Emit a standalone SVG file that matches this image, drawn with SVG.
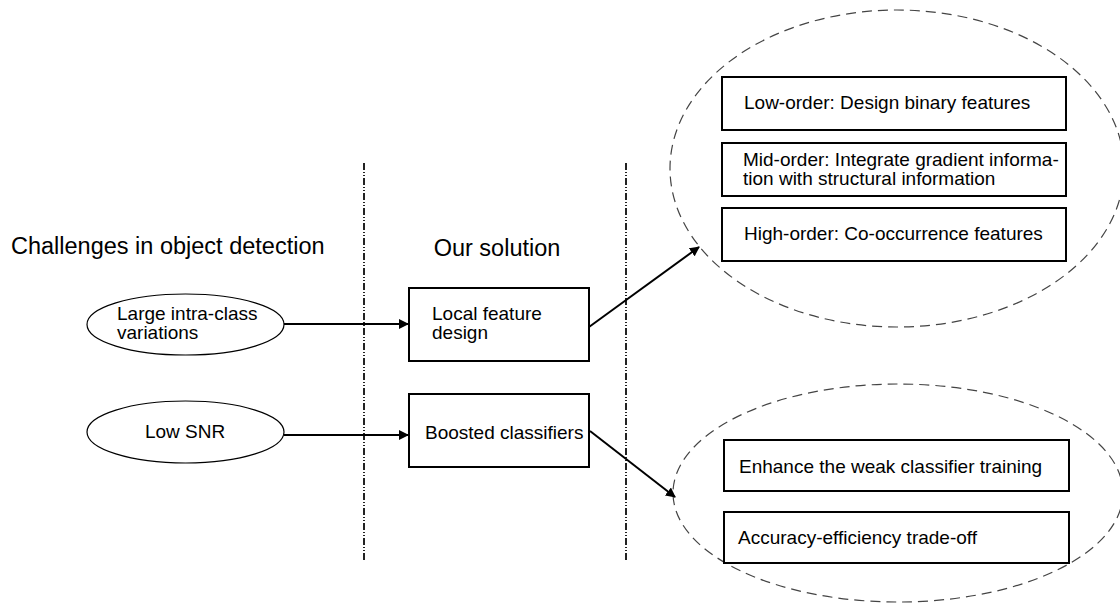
<svg xmlns="http://www.w3.org/2000/svg" width="1120" height="613" viewBox="0 0 1120 613">
  <style>
    text { font-family: "Liberation Sans", Arial, sans-serif; fill: #000; }
    .title { font-size: 23.5px; }
    .lbl { font-size: 19px; }
    .small { font-size: 19px; }
    .box { fill: #fff; stroke: #000; stroke-width: 2; }
    .oval { fill: #fff; stroke: #000; stroke-width: 1.2; }
    .group { fill: none; stroke: #444; stroke-width: 1.2; stroke-dasharray: 10 6; }
    .divider { stroke: #222; stroke-width: 2; stroke-dasharray: 7 2 1 2 1 2; fill: none; }
    .conn { stroke: #000; stroke-width: 2; fill: none; marker-end: url(#arrow); }
  </style>
  <defs>
    <marker id="arrow" viewBox="0 0 10 10" refX="9" refY="5" markerWidth="5" markerHeight="5" orient="auto" markerUnits="strokeWidth">
      <path d="M0,0 L10,5 L0,10 z" fill="#000"/>
    </marker>
  </defs>

  <rect width="1120" height="613" fill="#fff"/>

  <!-- column dividers -->
  <g id="dividers">
    <line class="divider" x1="364" y1="163" x2="364" y2="562"/>
    <line class="divider" x1="626" y1="163" x2="626" y2="562"/>
  </g>

  <!-- column headings -->
  <g id="headings">
    <text class="title" x="11" y="254">Challenges in object detection</text>
    <text class="title" x="497" y="256" text-anchor="middle">Our solution</text>
  </g>

  <!-- grouping ellipses -->
  <g id="feature-group">
    <ellipse class="group" cx="897" cy="168.5" rx="227" ry="158.5"/>
  </g>
  <g id="classifier-group">
    <ellipse class="group" cx="898" cy="493" rx="225" ry="109"/>
  </g>

  <!-- challenges -->
  <g id="intra-class">
    <ellipse class="oval" cx="185.5" cy="324.5" rx="98.5" ry="30.5"/>
    <text class="small" x="117" y="320">Large intra-class</text>
    <text class="small" x="117" y="339">variations</text>
  </g>
  <g id="low-snr">
    <ellipse class="oval" cx="185.5" cy="432" rx="98.5" ry="31"/>
    <text class="small" x="185" y="438" text-anchor="middle">Low SNR</text>
  </g>

  <!-- solutions -->
  <g id="local-feature">
    <rect class="box" x="409" y="288" width="180" height="73"/>
    <text class="lbl" x="432" y="320">Local feature</text>
    <text class="lbl" x="432" y="339">design</text>
  </g>
  <g id="boosted">
    <rect class="box" x="409" y="394" width="180" height="73"/>
    <text class="lbl" x="425" y="439">Boosted classifiers</text>
  </g>

  <!-- feature details -->
  <g id="low-order">
    <rect class="box" x="722" y="77" width="344" height="53"/>
    <text class="lbl" x="744" y="109">Low-order: Design binary features</text>
  </g>
  <g id="mid-order">
    <rect class="box" x="722" y="143" width="344" height="53"/>
    <text class="lbl" x="743" y="166">Mid-order: Integrate gradient informa-</text>
    <text class="lbl" x="743" y="185">tion with structural information</text>
  </g>
  <g id="high-order">
    <rect class="box" x="722" y="208" width="344" height="53"/>
    <text class="lbl" x="744" y="240">High-order: Co-occurrence features</text>
  </g>

  <!-- classifier details -->
  <g id="weak-training">
    <rect class="box" x="724" y="440" width="345" height="51"/>
    <text class="lbl" x="739" y="473">Enhance the weak classifier training</text>
  </g>
  <g id="trade-off">
    <rect class="box" x="724" y="512" width="345" height="51"/>
    <text class="lbl" x="738" y="544">Accuracy-efficiency trade-off</text>
  </g>

  <!-- connectors -->
  <g id="connectors">
    <line class="conn" x1="284" y1="324" x2="408" y2="324"/>
    <line class="conn" x1="284" y1="435" x2="408" y2="435"/>
    <line class="conn" x1="589" y1="327" x2="699" y2="247"/>
    <line class="conn" x1="590" y1="431" x2="675" y2="497"/>
  </g>
</svg>
